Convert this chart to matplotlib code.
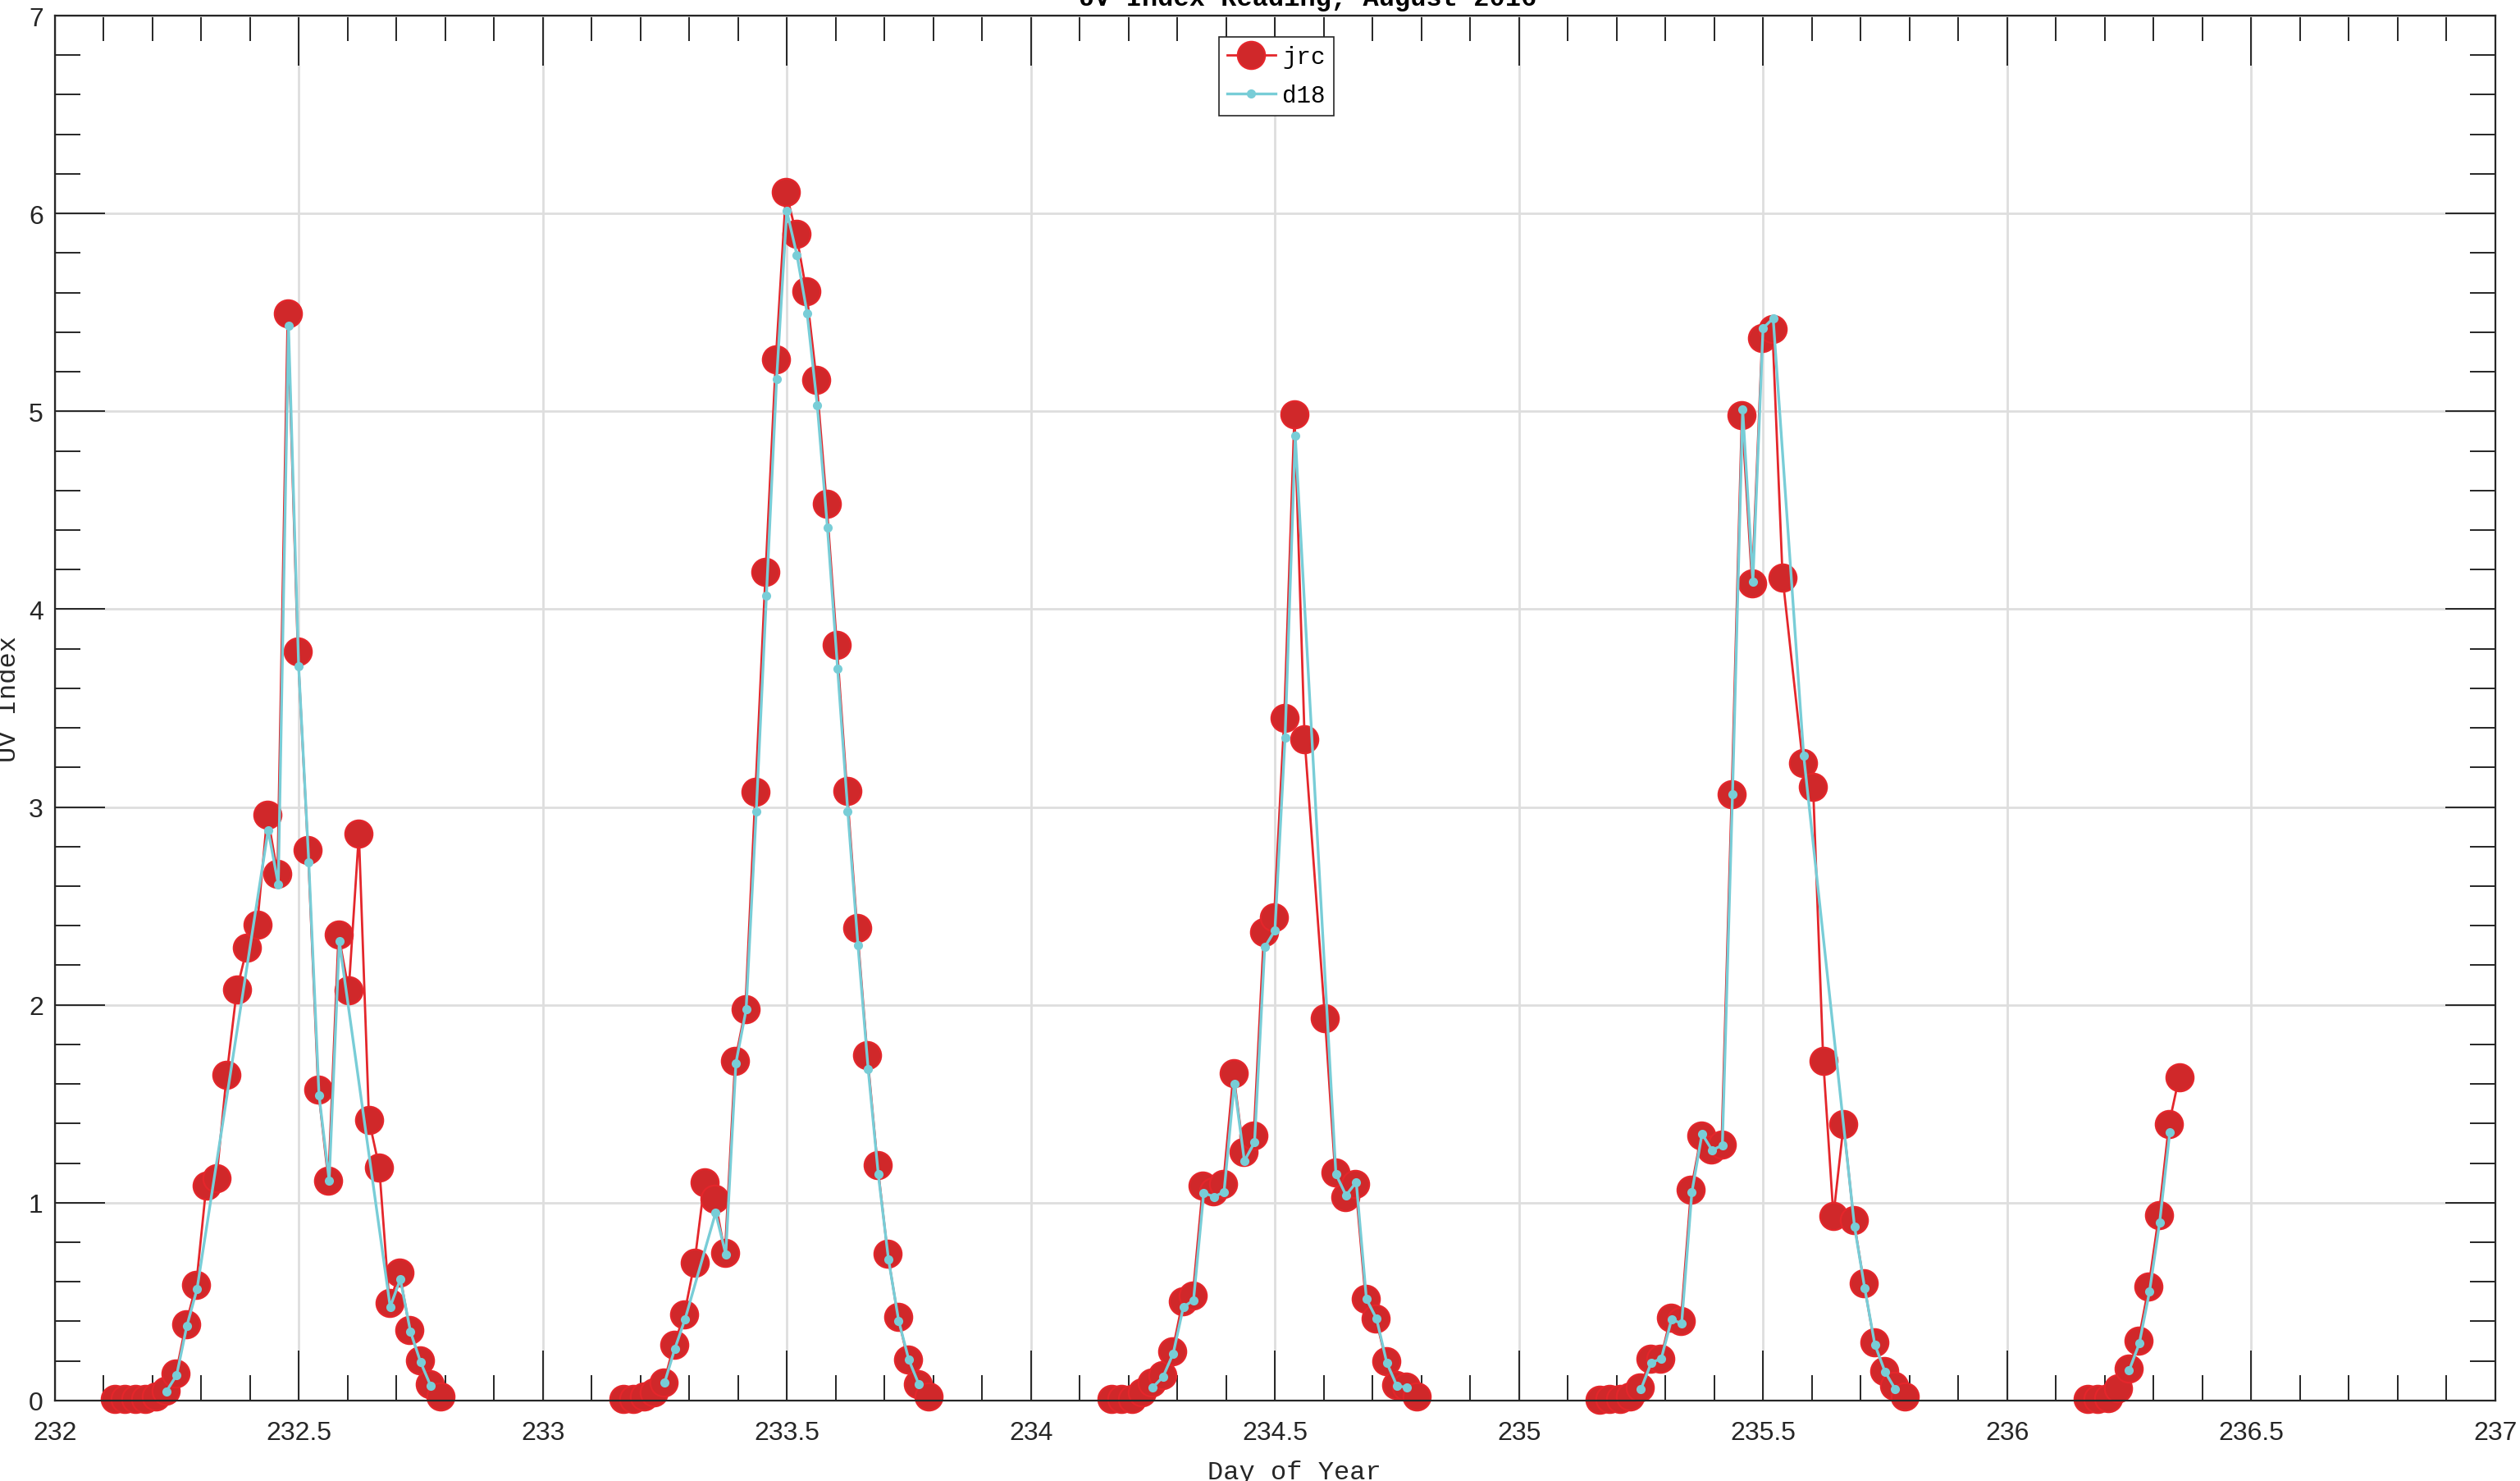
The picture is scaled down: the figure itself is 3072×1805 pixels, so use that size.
import matplotlib
matplotlib.use("Agg")
import matplotlib.pyplot as plt
import numpy as np
from matplotlib.ticker import MultipleLocator, FormatStrFormatter

# jrc readings (day of year, UV index)
jrc_doy = [
    232.1232, 232.1440, 232.1649, 232.1857, 232.2065, 232.2274, 232.2482, 232.2690, 232.2899,
    232.3107, 232.3315, 232.3524, 232.3732, 232.3940, 232.4149, 232.4357, 232.4565, 232.4774,
    232.4982, 232.5190, 232.5399, 232.5607, 232.5815, 232.6024, 232.6232, 232.6440, 232.6649,
    232.6857, 232.7065, 232.7274, 232.7482, 232.7690, 232.7899,
    233.1649, 233.1857, 233.2065, 233.2274, 233.2482, 233.2690, 233.2899, 233.3107, 233.3315,
    233.3524, 233.3732, 233.3940, 233.4149, 233.4357, 233.4565, 233.4774, 233.4982, 233.5190,
    233.5399, 233.5607, 233.5815, 233.6024, 233.6232, 233.6440, 233.6649, 233.6857, 233.7065,
    233.7274, 233.7482, 233.7690, 233.7899,
    234.1649, 234.1857, 234.2065, 234.2274, 234.2482, 234.2690, 234.2899, 234.3107, 234.3315,
    234.3524, 234.3732, 234.3940, 234.4149, 234.4357, 234.4565, 234.4774, 234.4982, 234.5190,
    234.5399, 234.5607, 234.6024, 234.6232, 234.6440, 234.6649, 234.6857, 234.7065, 234.7274,
    234.7482, 234.7690, 234.7899,
    235.1649, 235.1857, 235.2065, 235.2274, 235.2482, 235.2690, 235.2899, 235.3107, 235.3315,
    235.3524, 235.3732, 235.3940, 235.4149, 235.4357, 235.4565, 235.4774, 235.4982, 235.5190,
    235.5399, 235.5815, 235.6024, 235.6232, 235.6440, 235.6649, 235.6857, 235.7065, 235.7274,
    235.7482, 235.7690, 235.7899,
    236.1649, 236.1857, 236.2065, 236.2274, 236.2482, 236.2690, 236.2899, 236.3107, 236.3315,
    236.3524,
]
jrc_uv = [
    0.01, 0.01, 0.01, 0.01, 0.02, 0.05, 0.135, 0.387, 0.584,
    1.088, 1.124, 1.646, 2.077, 2.288, 2.405, 2.96, 2.664, 5.493,
    3.785, 2.781, 1.573, 1.113, 2.354, 2.073, 2.865, 1.416, 1.179,
    0.493, 0.646, 0.358, 0.204, 0.084, 0.022,
    0.01, 0.01, 0.02, 0.04, 0.093, 0.283, 0.436, 0.695, 1.103,
    1.018, 0.747, 1.717, 1.976, 3.079, 4.19, 5.261, 6.109, 5.899,
    5.608, 5.16, 4.533, 3.818, 3.083, 2.388, 1.745, 1.192, 0.743,
    0.424, 0.206, 0.081, 0.02,
    0.01, 0.01, 0.01, 0.04, 0.09, 0.13, 0.25, 0.50, 0.53,
    1.087, 1.056, 1.096, 1.654, 1.255, 1.339, 2.366, 2.443, 3.45,
    4.983, 3.342, 1.933, 1.151, 1.030, 1.094, 0.513, 0.416, 0.20,
    0.08, 0.07, 0.02,
    0.005, 0.01, 0.01, 0.02, 0.065, 0.21, 0.21, 0.42, 0.40,
    1.067, 1.341, 1.269, 1.294, 3.066, 4.982, 4.132, 5.372, 5.416,
    4.161, 3.221, 3.102, 1.717, 0.933, 1.396, 0.911, 0.593, 0.296,
    0.148, 0.076, 0.02,
    0.007, 0.007, 0.014, 0.062, 0.162, 0.304, 0.577, 0.936, 1.397,
    1.635,
]

# d18 readings (day of year, UV index)
d18_doy = [
    232.2290, 232.2498, 232.2706, 232.2915, 232.4373, 232.4581, 232.4790, 232.4998, 232.5206,
    232.5415, 232.5623, 232.5831, 232.6873, 232.7081, 232.7290, 232.7498, 232.7706,
    233.2498, 233.2706, 233.2915, 233.3540, 233.3748, 233.3956, 233.4165, 233.4373, 233.4581,
    233.4790, 233.4998, 233.5206, 233.5415, 233.5623, 233.5831, 233.6040, 233.6248, 233.6456,
    233.6665, 233.6873, 233.7081, 233.7290, 233.7498, 233.7706,
    234.2498, 234.2706, 234.2915, 234.3123, 234.3331, 234.3540, 234.3748, 234.3956, 234.4165,
    234.4373, 234.4581, 234.4790, 234.4998, 234.5206, 234.5415, 234.6248, 234.6456, 234.6665,
    234.6873, 234.7081, 234.7290, 234.7498, 234.7706,
    235.2498, 235.2706, 235.2915, 235.3123, 235.3331, 235.3540, 235.3748, 235.3956, 235.4165,
    235.4373, 235.4581, 235.4790, 235.4998, 235.5206, 235.5831, 235.6873, 235.7081, 235.7290,
    235.7498, 235.7706,
    236.2498, 236.2706, 236.2915, 236.3123, 236.3331,
]
d18_uv = [
    0.047, 0.128, 0.376, 0.562, 2.883, 2.609, 5.431, 3.712, 2.719,
    1.544, 1.113, 2.321, 0.474, 0.613, 0.347, 0.193, 0.073,
    0.093, 0.263, 0.412, 0.949, 0.739, 1.705, 1.976, 2.978, 4.069,
    5.164, 6.012, 5.79, 5.495, 5.03, 4.412, 3.697, 2.978, 2.303,
    1.677, 1.143, 0.715, 0.404, 0.206, 0.081,
    0.067, 0.12, 0.238, 0.473, 0.507, 1.05, 1.03, 1.054, 1.6,
    1.211, 1.305, 2.292, 2.376, 3.349, 4.876, 1.144, 1.037, 1.104,
    0.513, 0.413, 0.191, 0.074, 0.067,
    0.058, 0.19, 0.213, 0.409, 0.39, 1.052, 1.348, 1.265, 1.291,
    3.066, 5.011, 4.14, 5.42, 5.47, 3.26, 0.879, 0.568, 0.282,
    0.145, 0.058,
    0.152, 0.288, 0.55, 0.90, 1.355,
]


def break_nights(doy, uv):
    # put a NaN between days so the night gap is not joined by a line
    doy = np.asarray(doy)
    uv = np.asarray(uv, dtype=float)
    cut = np.where(np.diff(np.floor(doy)) > 0)[0] + 1
    return np.insert(doy, cut, np.nan), np.insert(uv, cut, np.nan)


red_line = "#e4262b"
red_face = "#d0282a"
cyan = "#78cdd7"
dark = "#262626"
mono = "Liberation Mono"

fig = plt.figure(figsize=(15.36, 9.03), dpi=200)
ax = fig.add_axes([0.0217, 0.0543, 0.9685, 0.9346])

x, y = break_nights(jrc_doy, jrc_uv)
ax.plot(x, y, "-o", color=red_line, mfc=red_face, mec=red_line,
        ms=12, mew=0.8, lw=1.0, label="jrc", zorder=2, clip_on=False)
x, y = break_nights(d18_doy, d18_uv)
ax.plot(x, y, "-o", color=cyan, ms=3, lw=1.2, label="d18",
        zorder=2.1, clip_on=False)

ax.set_xlim(232, 237)
ax.set_ylim(0, 7)
ax.xaxis.set_major_locator(MultipleLocator(0.5))
ax.xaxis.set_minor_locator(MultipleLocator(0.1))
ax.yaxis.set_major_locator(MultipleLocator(1))
ax.yaxis.set_minor_locator(MultipleLocator(0.2))
ax.xaxis.set_major_formatter(FormatStrFormatter("%g"))
ax.yaxis.set_major_formatter(FormatStrFormatter("%g"))

ax.set_axisbelow(True)
ax.grid(which="major", color="#dedede", lw=1.0)
ax.tick_params(which="both", direction="in", top=True, right=True,
               color=dark, labelcolor=dark, width=0.7)
ax.tick_params(which="major", length=22)
ax.tick_params(which="minor", length=11)
ax.tick_params(axis="x", pad=8.5)
ax.tick_params(axis="y", pad=5)
for lab in ax.get_xticklabels() + ax.get_yticklabels():
    lab.set_fontfamily("Liberation Sans")
    lab.set_fontsize(11.5)
for sp in ax.spines.values():
    sp.set_color(dark)
    sp.set_linewidth(0.8)

ax.set_xlabel("Day of Year", family=mono, fontsize=11.5, color=dark)
ax.set_ylabel("UV Index", family=mono, fontsize=11.5, color=dark)
ax.xaxis.set_label_coords(0.508, -0.0427)
ax.yaxis.set_label_coords(-0.0135, 0.507)

fig.text(0.519, 0.9961, "UV Index Reading, August 2016", family=mono,
         fontsize=11.5, weight="bold", ha="center", va="baseline", color="black")

leg = ax.legend(loc="upper center", bbox_to_anchor=(0.5006, 0.9845),
                borderaxespad=0, prop={"family": mono, "size": 10.5},
                fancybox=False, framealpha=1, edgecolor=dark,
                handlelength=2.0, handletextpad=0.3, borderpad=0.35,
                labelspacing=0.65)
leg.get_frame().set_linewidth(0.6)

fig.savefig("out.png", dpi=200)
